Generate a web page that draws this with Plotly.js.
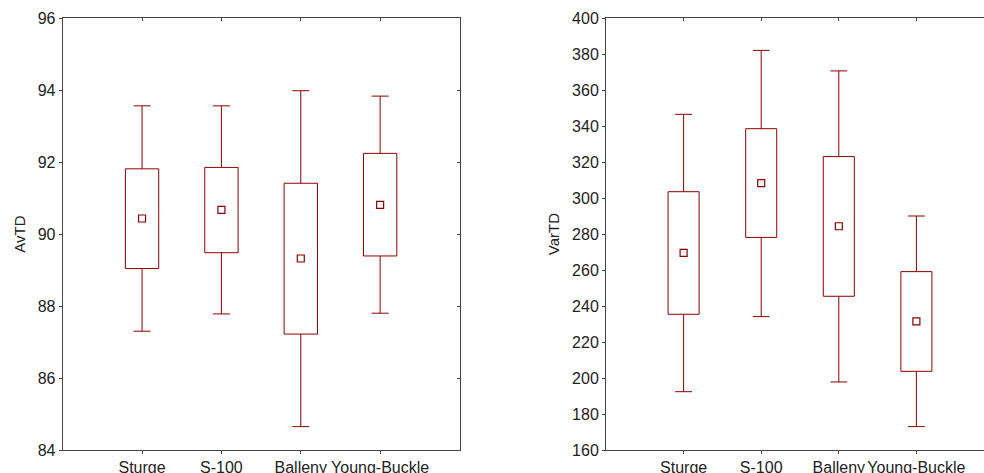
<!DOCTYPE html>
<html>
<head>
<meta charset="utf-8">
<script src="https://cdn.plot.ly/plotly-3.0.1.min.js"></script>
<style>html,body{margin:0;padding:0;background:#fff}#chart{width:984px;height:473px}</style>
</head>
<body>
<div id="chart"></div>
<script>
// Data (mean, ±box, ±whisker)
var categories = ["Sturge", "S-100", "Balleny", "Young-Buckle"];

var avtdMean  = [90.43, 90.67, 89.32, 90.81];
var avtdBoxLo = [89.04, 89.48, 87.22, 89.39];
var avtdBoxHi = [91.81, 91.85, 91.41, 92.24];
var avtdWhLo  = [87.30, 87.78, 84.65, 87.80];
var avtdWhHi  = [93.56, 93.56, 93.98, 93.83];

var vartdMean  = [269.5, 308.3, 284.3, 231.5];
var vartdBoxLo = [235.4, 278.1, 245.4, 203.7];
var vartdBoxHi = [303.5, 338.5, 323.0, 259.1];
var vartdWhLo  = [192.4, 234.1, 197.8, 173.0];
var vartdWhHi  = [346.5, 382.0, 370.6, 290.0];

var red = "#8b0000";
var font = "Liberation Sans, Arial, sans-serif";

// box (±SE-like range) as a bar from lo to hi
function boxBars(lo, hi, xa, ya, w) {
  return {
    type: "bar", x: categories, base: lo, y: hi.map(function (h, i) { return h - lo[i]; }),
    xaxis: xa, yaxis: ya, width: w,
    marker: {color: "rgba(0,0,0,0)", line: {color: red, width: 1}},
    showlegend: false, hoverinfo: "skip"
  };
}
// whisker stems from box edge to whisker end
function stems(lo, hi, wlo, whi, xa, ya) {
  var xs = [], ys = [];
  categories.forEach(function (c, i) {
    xs.push(c, c, null, c, c, null);
    ys.push(hi[i], whi[i], null, lo[i], wlo[i], null);
  });
  return {type: "scatter", mode: "lines", x: xs, y: ys, xaxis: xa, yaxis: ya,
    connectgaps: false, line: {color: red, width: 1}, showlegend: false, hoverinfo: "skip"};
}
// whisker caps
function caps(wlo, whi, xa, ya, size) {
  return {type: "scatter", mode: "markers", x: categories.concat(categories),
    y: whi.concat(wlo), xaxis: xa, yaxis: ya,
    marker: {symbol: "line-ew-open", size: size, color: red, line: {width: 1, color: red}},
    showlegend: false, hoverinfo: "skip"};
}
function meanTrace(m, xa, ya) {
  return {
    type: "scatter", mode: "markers", x: categories, y: m, xaxis: xa, yaxis: ya,
    marker: {symbol: "square-open", size: 7, color: red, line: {width: 1.2, color: red}},
    showlegend: false, hoverinfo: "skip"
  };
}
// empty helper traces so that the frame axes (top / right) get drawn
function helper(xa, ya) {
  return {type: "scatter", mode: "markers", x: [], y: [], xaxis: xa, yaxis: ya,
    showlegend: false, hoverinfo: "skip"};
}

var traces = [
  boxBars(avtdBoxLo, avtdBoxHi, "x", "y", 0.42),
  stems(avtdBoxLo, avtdBoxHi, avtdWhLo, avtdWhHi, "x", "y"),
  caps(avtdWhLo, avtdWhHi, "x", "y", 12.2),
  meanTrace(avtdMean, "x", "y"),
  boxBars(vartdBoxLo, vartdBoxHi, "x2", "y2", 0.40),
  stems(vartdBoxLo, vartdBoxHi, vartdWhLo, vartdWhHi, "x2", "y2"),
  caps(vartdWhLo, vartdWhHi, "x2", "y2", 12),
  meanTrace(vartdMean, "x2", "y2"),
  helper("x3", "y"),
  helper("x", "y3"),
  helper("x4", "y2")
];

var axisColor = "#444";
var tickFont = {family: font, size: 16, color: "#222"};
var yDom = [1 - 450/473, 1 - 18/473];
var xDom1 = [62.7/984, 459.5/984];
var xDom2 = [606/984, 1];
var xr1 = [-1, 4];
var xr2 = [-1, -1 + (984 - 606)/77.6];
var yr1 = [84, 96];
var yr2 = [160, 400];

function mainX(dom, range, anchor) {
  return {domain: dom, type: "category", categoryorder: "array", categoryarray: categories,
    range: range, anchor: anchor,
    showline: true, linecolor: axisColor, linewidth: 1, showgrid: false, zeroline: false,
    ticks: "outside", ticklen: 3, tickcolor: axisColor, tickangle: 0,
    tickfont: tickFont, fixedrange: true};
}
function mainY(dom, range, dtick, anchor, title) {
  return {domain: dom, range: range, dtick: dtick, anchor: anchor,
    showline: true, linecolor: axisColor, linewidth: 1, showgrid: false, zeroline: false,
    ticks: "outside", ticklen: 3, tickcolor: axisColor,
    tickfont: tickFont, fixedrange: true,
    title: {text: title, font: {family: font, size: 15, color: "#222"}, standoff: 8}};
}
function topX(over, range, anchor) {
  return {overlaying: over, side: "top", anchor: anchor, range: range, type: "linear",
    tickvals: [0, 1, 2, 3], showticklabels: false, showline: true, linecolor: axisColor,
    linewidth: 1, showgrid: false, zeroline: false, ticks: "inside", ticklen: 3,
    tickcolor: axisColor, fixedrange: true};
}

var layout = {
  width: 984, height: 473,
  margin: {l: 0, r: 0, t: 0, b: 0},
  paper_bgcolor: "#fff", plot_bgcolor: "#fff",
  showlegend: false,
  xaxis: mainX(xDom1, xr1, "y"),
  yaxis: mainY(yDom, yr1, 2, "x", "AvTD"),
  xaxis2: mainX(xDom2, xr2, "y2"),
  yaxis2: mainY(yDom, yr2, 20, "x2", "VarTD"),
  xaxis3: topX("x", xr1, "y"),
  xaxis4: topX("x2", xr2, "y2"),
  yaxis3: {overlaying: "y", side: "right", anchor: "x", range: yr1, dtick: 2,
    showticklabels: false, showline: true, linecolor: axisColor, linewidth: 1,
    showgrid: false, zeroline: false, ticks: "inside", ticklen: 3, tickcolor: axisColor,
    fixedrange: true}
};

Plotly.newPlot("chart", traces, layout, {displayModeBar: false, staticPlot: true});
</script>
</body>
</html>
